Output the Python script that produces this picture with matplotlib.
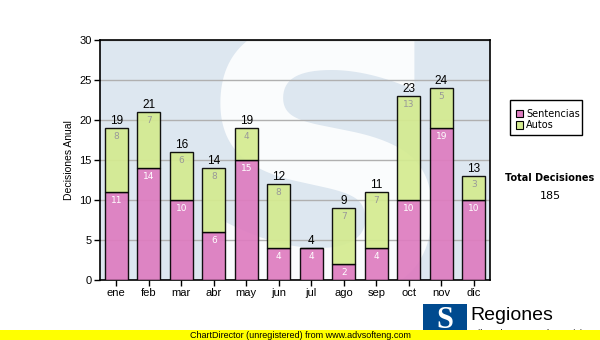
import matplotlib
matplotlib.use("Agg")
import matplotlib.pyplot as plt
from matplotlib.patches import Rectangle
import numpy as np

months = ["ene", "feb", "mar", "abr", "may", "jun", "jul", "ago", "sep", "oct", "nov", "dic"]
sentencias = [11, 14, 10, 6, 15, 4, 4, 2, 4, 10, 19, 10]
autos = [8, 7, 6, 8, 4, 8, 0, 7, 7, 13, 5, 3]
y_ticks = [0, 5, 10, 15, 20, 25, 30]

W, H = 600, 340
fig = plt.figure(figsize=(W / 100, H / 100), dpi=100)
fig.patch.set_facecolor("white")

ax = fig.add_axes([100 / W, 1 - 280 / H, 390 / W, 240 / H])
ax.set_facecolor("#dde7f0")

# watermark "S" behind the bars
ax.text(0.58, 0.37, "S", transform=ax.transAxes, fontsize=265, color="#fafcfd",
        ha="center", va="center", family="DejaVu Sans", fontweight="bold",
        zorder=0.5, clip_on=True)

x = np.arange(len(months))
pink = "#de7cc0"
green = "#d4eb90"
ax.bar(x, sentencias, width=0.7, color=pink, edgecolor="black", linewidth=1.0, zorder=3, alpha=0.92)
ax.bar(x, autos, bottom=sentencias, width=0.7, color=green, edgecolor="black", linewidth=1.0, zorder=3, alpha=0.92)

for xi, s, a in zip(x, sentencias, autos):
    ax.text(xi, s - 0.5, str(s), ha="center", va="top", fontsize=6.5, color="white",
            family="DejaVu Sans", zorder=4)
    if a > 0:
        ax.text(xi, s + a - 0.5, str(a), ha="center", va="top", fontsize=6.5, color="#999999",
                family="DejaVu Sans", zorder=4)
    ax.text(xi, s + a + 0.15, str(s + a), ha="center", va="bottom", fontsize=8.5, color="black",
            family="Liberation Sans", zorder=4)

ax.set_xlim(-0.5, len(months) - 0.5)
ax.set_ylim(0, 30)
ax.set_yticks(y_ticks)
ax.set_xticks(x)
ax.set_xticklabels(months)
ax.tick_params(axis="both", labelsize=8, length=4, width=1, direction="out", pad=2)
for lbl in ax.get_xticklabels() + ax.get_yticklabels():
    lbl.set_family("Liberation Sans")
ax.yaxis.grid(True, color="#b0b0b0", linewidth=1, zorder=1)
ax.set_axisbelow(True)
for sp in ax.spines.values():
    sp.set_linewidth(1.2)
    sp.set_color("black")
ax.set_ylabel("Decisiones Anual", fontsize=7.5, family="Liberation Sans", labelpad=4)

# legend box
fig.patches.append(Rectangle((510 / W, 1 - 135 / H), 72 / W, 35 / H, transform=fig.transFigure,
                             facecolor="white", edgecolor="black", linewidth=1))
for i, (lab, col) in enumerate([("Sentencias", pink), ("Autos", green)]):
    yy = 1 - (114 + i * 11) / H
    fig.patches.append(Rectangle((516 / W, yy - 3.5 / H), 7 / W, 7 / H, transform=fig.transFigure,
                                 facecolor=col, edgecolor="black", linewidth=0.8))
    fig.text(526 / W, yy, lab, fontsize=7, family="DejaVu Sans", va="center", ha="left")

fig.text(550 / W, 1 - 178 / H, "Total Decisiones", fontsize=7, fontweight="bold",
         family="DejaVu Sans", ha="center", va="center")
fig.text(550 / W, 1 - 196 / H, "185", fontsize=8, family="DejaVu Sans", ha="center", va="center")

# logo
fig.patches.append(Rectangle((423 / W, 1 - 335 / H), 44 / W, 31 / H, transform=fig.transFigure,
                             facecolor="#004a8f", edgecolor="none"))
fig.text(445 / W, 1 - 320 / H, "S", fontsize=22, fontweight="bold", color="white",
         family="Liberation Serif", ha="center", va="center")
fig.text(470 / W, 1 - 316 / H, "Regiones", fontsize=14, family="Liberation Sans",
         ha="left", va="center", color="black")
fig.text(470 / W, 1 - 333 / H, "Tribunal Supremo de Justicia", fontsize=6.5,
         family="Liberation Sans", ha="left", va="center", color="black")

# footer band
fig.patches.append(Rectangle((0, 0), 1, 10 / H, transform=fig.transFigure,
                             facecolor="#ffff00", edgecolor="none", zorder=10))
fig.text(0.5, 5 / H, "ChartDirector (unregistered) from www.advsofteng.com", fontsize=6.5,
         family="Liberation Sans", ha="center", va="center", zorder=11)

fig.savefig("out.png", dpi=100)
